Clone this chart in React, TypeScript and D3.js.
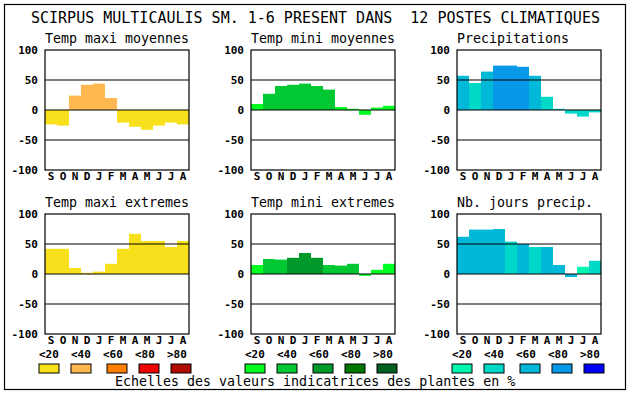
import React from "react";
import * as d3 from "d3";

const months = ["S", "O", "N", "D", "J", "F", "M", "A", "M", "J", "J", "A"];
const yTicks = [100, 50, 0, -50, -100];
const legendLabels = ["<20", "<40", "<60", "<80", ">80"];

const tmaxMoy = [-24, -26, 24, 42, 44, 20, -21, -28, -33, -26, -21, -24];
const tmaxMoyCls = [0, 0, 1, 1, 1, 1, 0, 0, 0, 0, 0, 0];
const tminMoy = [10, 27, 40, 42, 44, 40, 34, 5, 2, -8, 4, 7];
const tminMoyCls = [0, 1, 1, 1, 1, 1, 1, 0, 0, 0, 0, 0];
const precip = [57, 45, 64, 74, 74, 72, 57, 22, 2, -6, -11, -4];
const precipCls = [2, 1, 2, 3, 3, 3, 2, 1, 1, 1, 1, 1];
const tmaxExt = [42, 42, 10, 2, 4, 17, 42, 67, 55, 55, 45, 55];
const tmaxExtCls = [0, 0, 0, 0, 0, 0, 0, 0, 0, 0, 0, 0];
const tminExt = [15, 25, 24, 27, 35, 27, 15, 14, 17, -3, 7, 17];
const tminExtCls = [0, 1, 1, 2, 2, 2, 1, 1, 1, 0, 0, 0];
const nbJours = [62, 74, 74, 75, 54, 50, 45, 45, 15, -5, 12, 22];
const nbJoursCls = [2, 2, 2, 2, 1, 2, 1, 2, 2, 2, 0, 1];

const warm = ["#f8e01c", "#ffb850", "#ff8000", "#f00000", "#b00c00"];
const green = ["#00ff20", "#00c832", "#009a2a", "#007800", "#006020"];
const blue = ["#00f8b0", "#00d8c8", "#00b8d8", "#0898e8", "#0000f8"];

const title = "SCIRPUS MULTICAULIS SM. 1-6 PRESENT DANS  12 POSTES CLIMATIQUES";
const footer = "Echelles des valeurs indicatrices des plantes en %";

const MONO = "'DejaVu Sans Mono', monospace";

type PanelProps = {
  x0: number;
  y0: number;
  name: string;
  values: number[];
  cls: number[];
  palette: string[];
};

function Panel({ x0, y0, name, values, cls, palette }: PanelProps) {
  const w = 144;
  const h = 120;
  const x = d3.scaleBand<number>().domain(d3.range(months.length)).range([x0, x0 + w]).padding(0);
  const y = d3.scaleLinear().domain([-100, 100]).range([y0 + h, y0]);
  return (
    <g>
      <text x={x0} y={y0 - 7} fontFamily={MONO} fontSize={13.3} fill="#000">
        {name}
      </text>
      {values.map((v, i) => (
        <rect
          key={i}
          x={x(i)!}
          width={x.bandwidth()}
          y={Math.min(y(v), y(0))}
          height={Math.abs(y(v) - y(0))}
          fill={palette[cls[i]]}
        />
      ))}
      {[50, 0, -50].map((t) => (
        <line key={t} x1={x0} x2={x0 + w} y1={y(t)} y2={y(t)} stroke="#000" strokeWidth={1.2} />
      ))}
      <rect x={x0} y={y0} width={w} height={h} fill="none" stroke="#000" strokeWidth={1.2} />
      {yTicks.map((t) => (
        <text
          key={t}
          x={x0 - 7}
          y={y(t) + 4}
          textAnchor="end"
          fontFamily={MONO}
          fontWeight="bold"
          fontSize={11}
          fill="#000"
        >
          {t}
        </text>
      ))}
      {months.map((m, i) => (
        <text
          key={i}
          x={x(i)! + x.bandwidth() / 2}
          y={y0 + h + 10}
          textAnchor="middle"
          fontFamily={MONO}
          fontWeight="bold"
          fontSize={11}
          fill="#000"
        >
          {m}
        </text>
      ))}
    </g>
  );
}

function Legend({ x0, palette }: { x0: number; palette: string[] }) {
  const offs = [0, 32, 68, 100, 132];
  const lab = [0, 32, 64, 96, 128];
  return (
    <g>
      {legendLabels.map((l, i) => (
        <text
          key={"l" + i}
          x={x0 + lab[i]}
          y={358}
          fontFamily={MONO}
          fontWeight="bold"
          fontSize={11}
          fill="#000"
        >
          {l}
        </text>
      ))}
      {palette.map((c, i) => (
        <rect key={"s" + i} x={x0 + offs[i]} y={364} width={20} height={9} fill={c} stroke="#000" strokeWidth={1} />
      ))}
    </g>
  );
}

export default function App() {
  return (
    <svg
      width={630}
      height={394}
      style={{ position: "absolute", left: 0, top: 0, background: "#fff" }}
    >
      <rect x={0} y={0} width={630} height={394} fill="#fff" />
      <rect x={4.5} y={4.5} width={621} height={385} fill="none" stroke="#000" strokeWidth={1.2} />
      <text x={31} y={23} fontFamily={MONO} fontSize={15} fill="#000" style={{ whiteSpace: "pre" }}>
        {title}
      </text>
      <Panel x0={45} y0={50} name="Temp maxi moyennes" values={tmaxMoy} cls={tmaxMoyCls} palette={warm} />
      <Panel x0={251} y0={50} name="Temp mini moyennes" values={tminMoy} cls={tminMoyCls} palette={green} />
      <Panel x0={457} y0={50} name="Precipitations" values={precip} cls={precipCls} palette={blue} />
      <Panel x0={45} y0={214} name="Temp maxi extremes" values={tmaxExt} cls={tmaxExtCls} palette={warm} />
      <Panel x0={251} y0={214} name="Temp mini extremes" values={tminExt} cls={tminExtCls} palette={green} />
      <Panel x0={457} y0={214} name="Nb. jours precip." values={nbJours} cls={nbJoursCls} palette={blue} />
      <Legend x0={39} palette={warm} />
      <Legend x0={245} palette={green} />
      <Legend x0={452} palette={blue} />
      <text x={115} y={386} fontFamily={MONO} fontSize={13.3} fill="#000">
        {footer}
      </text>
    </svg>
  );
}
